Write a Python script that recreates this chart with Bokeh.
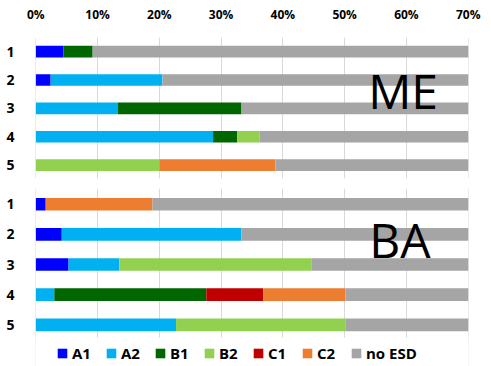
from bokeh.plotting import figure
from bokeh.models import (ColumnDataSource, Range1d, FixedTicker, NumeralTickFormatter, Label,
                          Legend, LegendItem, BoxAnnotation)
from bokeh.layouts import column
from bokeh.embed import file_html
from bokeh.resources import INLINE

rows = [1, 2, 3, 4, 5]
row_labels = ["1", "2", "3", "4", "5"]
series = ["A1", "A2", "B1", "B2", "C1", "C2", "no ESD"]
colors = ["#0000FF", "#00B0F0", "#006600", "#92D050", "#C00000", "#ED7D31", "#A5A5A5"]
x_ticks = [0, 0.1, 0.2, 0.3, 0.4, 0.5, 0.6, 0.7]

# ME panel (percent)
me_A1 = [4.5, 2.4, 0.0, 0.0, 0.0]
me_A2 = [0.0, 18.1, 13.3, 28.7, 0.0]
me_B1 = [4.7, 0.0, 20.0, 3.9, 0.0]
me_B2 = [0.0, 0.0, 0.0, 3.6, 20.0]
me_C1 = [0.0, 0.0, 0.0, 0.0, 0.0]
me_C2 = [0.0, 0.0, 0.0, 0.0, 18.8]
me_no = [90.8, 79.5, 66.7, 63.8, 61.2]

# BA panel (percent)
ba_A1 = [1.6, 4.2, 5.3, 0.0, 0.0]
ba_A2 = [0.0, 29.1, 8.2, 3.0, 22.7]
ba_B1 = [0.0, 0.0, 0.0, 24.6, 0.0]
ba_B2 = [0.0, 0.0, 31.1, 0.0, 27.4]
ba_C1 = [0.0, 0.0, 0.0, 9.2, 0.0]
ba_C2 = [17.3, 0.0, 0.0, 13.3, 0.0]
ba_no = [81.1, 66.7, 55.4, 49.9, 49.9]

FONT = "Open Sans"


def make_source(cols):
    data = {"row": rows}
    for name, vals in zip(series, cols):
        data[name] = [v / 100.0 for v in vals]
    return ColumnDataSource(data)


def style(p):
    p.outline_line_color = None
    p.ygrid.visible = False
    p.xgrid.ticker = FixedTicker(ticks=x_ticks)
    p.xgrid.grid_line_color = "#D9D9D9"
    p.xgrid.grid_line_width = 1
    p.yaxis.ticker = FixedTicker(ticks=rows)
    p.yaxis.major_label_overrides = {r: l for r, l in zip(rows, row_labels)}
    p.yaxis.axis_line_color = None
    p.yaxis.major_tick_line_color = None
    p.yaxis.minor_tick_line_color = None
    p.yaxis.major_label_text_font = FONT
    p.yaxis.major_label_text_font_style = "bold"
    p.yaxis.major_label_text_font_size = "14px"
    p.yaxis.major_label_text_color = "#000000"
    p.yaxis.major_label_standoff = 15
    p.background_fill_color = "white"
    p.border_fill_color = "white"


p1 = figure(width=491, height=183, output_backend="svg", toolbar_location=None,
            x_range=Range1d(-0.0005, 0.7005), y_range=Range1d(5.47, 0.5),
            x_axis_location="above",
            min_border_left=35, min_border_right=23, min_border_top=37, min_border_bottom=5)
style(p1)
p1.xaxis.ticker = FixedTicker(ticks=x_ticks)
p1.xaxis.formatter = NumeralTickFormatter(format="0%")
p1.xaxis.axis_line_color = None
p1.xaxis.major_tick_line_color = None
p1.xaxis.minor_tick_line_color = None
p1.xaxis.major_label_text_font = FONT
p1.xaxis.major_label_text_font_style = "bold"
p1.xaxis.major_label_text_font_size = "12px"
p1.xaxis.major_label_text_color = "#000000"
p1.xaxis.major_label_standoff = 9

p1.hbar_stack(series, y="row", height=0.41, color=colors, line_color=None,
              source=make_source([me_A1, me_A2, me_B1, me_B2, me_C1, me_C2, me_no]))
p1.add_layout(Label(x=0.538, y=2.37, text="ME", text_font=FONT, text_font_size="48px",
                    text_color="#000000", text_baseline="alphabetic", text_align="left"))

# lower panel: frame reaches the bottom of the page, legend sits inside it
p2 = figure(width=491, height=183, output_backend="svg", toolbar_location=None,
            x_range=Range1d(-0.0005, 0.7005), y_range=Range1d(6.383, 0.479),
            x_axis_location=None,
            min_border_left=35, min_border_right=23, min_border_top=5, min_border_bottom=0)
style(p2)
renderers = p2.hbar_stack(series, y="row", height=0.42, color=colors, line_color=None,
                          source=make_source([ba_A1, ba_A2, ba_B1, ba_B2, ba_C1, ba_C2, ba_no]))
p2.add_layout(Label(x=0.540, y=2.18, text="BA", text_font=FONT, text_font_size="48px",
                    text_color="#000000", text_baseline="alphabetic", text_align="left"))
# blank strip below the last row (grid lines stop under the bars)
p2.add_layout(BoxAnnotation(left=-0.01, right=0.72, top=5.42, bottom=6.6,
                            fill_color="white", fill_alpha=1.0, line_color=None))

lg = Legend(items=[LegendItem(label=s, renderers=[r]) for s, r in zip(series, renderers)],
            orientation="horizontal", location=(21, 3),
            background_fill_alpha=0, border_line_color=None,
            padding=0, margin=0, glyph_width=12, glyph_height=12,
            label_standoff=4, spacing=13, label_height=20,
            label_text_font=FONT, label_text_font_style="bold",
            label_text_font_size="15px", label_text_color="#000000")
p2.add_layout(lg, "center")

layout = column(p1, p2, spacing=0)
open("out.html", "w").write(file_html(layout, INLINE))
